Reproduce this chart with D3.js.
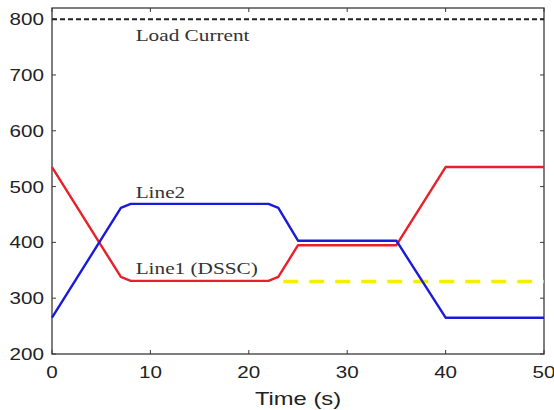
<!DOCTYPE html>
<html><head><meta charset="utf-8">
<script src="https://cdn.jsdelivr.net/npm/d3@7"></script>
<style>body{margin:0;background:#fff}svg{display:block}</style>
</head><body>
<svg id="c" width="554" height="410"></svg>
<script>
const time = [0, 7, 8, 22, 23, 25, 35, 40, 50];
const line1 = [535, 338, 331, 331, 338, 395, 395, 535, 535];
const line2 = [265, 462, 469, 469, 462, 403, 403, 265, 265];
const loadTime = [0, 50];
const loadCurrent = [800, 800];
const refTime = [23.5, 50];
const refValue = [330, 330];
const xTicks = [0, 10, 20, 30, 40, 50];
const yTicks = [200, 300, 400, 500, 600, 700, 800];
const labels = [
  {text: "Load Current", t: 8.5, v: 761},
  {text: "Line2", t: 8.5, v: 479},
  {text: "Line1 (DSSC)", t: 8.5, v: 344}
];

const svg = d3.select("#c");
const L = 52, R = 544, T = 8, B = 354;
const SX = 1.25;
const x = d3.scaleLinear().domain([0, 50]).range([L, R]);
const y = d3.scaleLinear().domain([200, 820]).range([B, T]);
const axisColor = "#3a3a3a";

// box
svg.append("rect").attr("x", L).attr("y", T).attr("width", R - L).attr("height", B - T)
  .attr("fill", "none").attr("stroke", axisColor).attr("stroke-width", 1.3);

// ticks inward
const tk = 4;
xTicks.forEach(t => {
  svg.append("line").attr("x1", x(t)).attr("x2", x(t)).attr("y1", B).attr("y2", B - tk).attr("stroke", axisColor);
  svg.append("line").attr("x1", x(t)).attr("x2", x(t)).attr("y1", T).attr("y2", T + tk).attr("stroke", axisColor);
  svg.append("text").attr("transform", `translate(${x(t)},378) scale(${SX},1)`)
    .attr("text-anchor", "middle").attr("font-family", "Liberation Sans, Arial, sans-serif")
    .attr("font-size", 16.5).attr("fill", "#222").text(t);
});
yTicks.forEach(v => {
  svg.append("line").attr("x1", L).attr("x2", L + tk).attr("y1", y(v)).attr("y2", y(v)).attr("stroke", axisColor);
  svg.append("line").attr("x1", R).attr("x2", R - tk).attr("y1", y(v)).attr("y2", y(v)).attr("stroke", axisColor);
  svg.append("text").attr("transform", `translate(44,${y(v) + 6}) scale(${SX},1)`)
    .attr("text-anchor", "end").attr("font-family", "Liberation Sans, Arial, sans-serif")
    .attr("font-size", 16.5).attr("fill", "#222").text(v);
});

svg.append("text").attr("transform", `translate(${(L + R) / 2},405) scale(${SX},1)`)
  .attr("text-anchor", "middle").attr("font-family", "Liberation Sans, Arial, sans-serif")
  .attr("font-size", 19).attr("fill", "#222").text("Time (s)");

const line = d3.line().x(d => x(d[0])).y(d => y(d[1]));

svg.append("path").datum(loadTime.map((t, i) => [t, loadCurrent[i]]))
  .attr("d", line).attr("fill", "none").attr("stroke", "#222").attr("stroke-width", 2)
  .attr("stroke-dasharray", "5,3");

svg.append("path").datum(refTime.map((t, i) => [t, refValue[i]]))
  .attr("d", line).attr("fill", "none").attr("stroke", "#f2f000").attr("stroke-width", 3.5)
  .attr("stroke-dasharray", "15,11");

svg.append("path").datum(time.map((t, i) => [t, line1[i]]))
  .attr("d", line).attr("fill", "none").attr("stroke", "#e8202a").attr("stroke-width", 2.4)
  .attr("stroke-linejoin", "round");

svg.append("path").datum(time.map((t, i) => [t, line2[i]]))
  .attr("d", line).attr("fill", "none").attr("stroke", "#1a1ad8").attr("stroke-width", 2.4)
  .attr("stroke-linejoin", "round");

labels.forEach(l => {
  svg.append("text").attr("transform", `translate(${x(l.t)},${y(l.v)}) scale(${SX},1)`)
    .attr("font-family", "Liberation Serif, Times New Roman, serif")
    .attr("font-size", 17).attr("fill", "#333").text(l.text);
});
</script>
</body></html>
